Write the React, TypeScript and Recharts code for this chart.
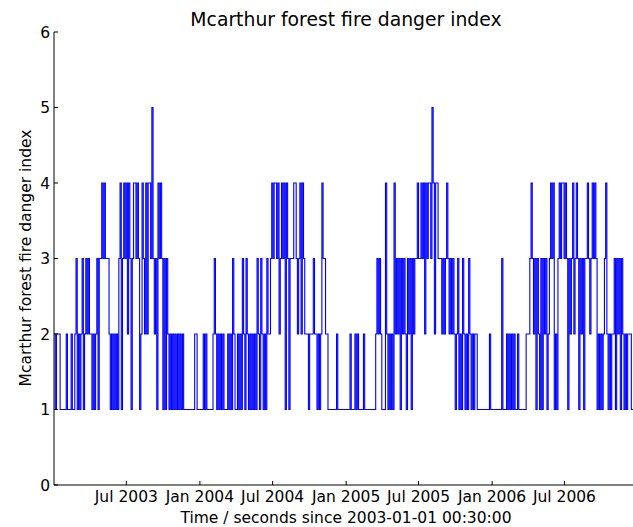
import { LineChart, Line, XAxis, YAxis } from "recharts";

const FONT = "'DejaVu Sans', 'Bitstream Vera Sans', sans-serif";

// index samples roughly every 3 days, starting 2003-01-01 00:30
const startDate = Date.UTC(2003, 0, 1, 0, 30);
const dayMs = 86400000;
const stepDays = 3.06;

// fire danger index, one digit per sample
const fdi2003 =
  "2122211111" + "2111211231" + "2123123232" + "2121231334" + "3433321212" +
  "1213413434" + "2431344343" + "1243242443" + "5323143431" + "3132121212" +
  "1212121111" + "1111122111" + "11";
const fdi2004 =
  "2121111123" + "2121212111" + "2121321121" + "2132132121" + "2121321321" +
  "2132234344" + "3423434143" + "1333443234" + "2432221222" + "3221212433" +
  "2211111112" + "1111111111" + "21";
const fdi2005 =
  "1121211112" + "1111111112" + "3232111421" + "2121423231" + "3232132313" +
  "2334334342" + "4344354244" + "3332323432" + "3232123121" + "3212132121" +
  "2211111111" + "1121111111" + "11";
const fdi2006 =
  "3111212121" + "2112111111" + "2223432313" + "2131323123" + "4341213434" +
  "4343132342" + "3431323133" + "4323434312" + "1212342121" + "2231323132" +
  "1212221121" + "12";

const xTickLabels = ["Jul 2003", "Jan 2004", "Jul 2004", "Jan 2005", "Jul 2005", "Jan 2006", "Jul 2006"];
const yTicks = [0, 1, 2, 3, 4, 5, 6];
const xEndDate = Date.UTC(2007, 0, 1, 0, 30);

const monthIndex: Record<string, number> = { Jan: 0, Jul: 6 };
const xTicks = xTickLabels.map((l) => {
  const [m, y] = l.split(" ");
  return (Date.UTC(Number(y), monthIndex[m], 1) - startDate) / dayMs;
});
const xMax = (xEndDate - startDate) / dayMs;

const values = (fdi2003 + fdi2004 + fdi2005 + fdi2006).split("").map(Number);
const data = values.map((v, i) => ({ day: i * stepDays, fdi: v }));

function labelFor(value: number) {
  let best = 0;
  xTicks.forEach((t, i) => {
    if (Math.abs(t - value) < Math.abs(xTicks[best] - value)) best = i;
  });
  return xTickLabels[best];
}

function BottomTick({ x, y, payload }: any) {
  return (
    <g>
      <line x1={x} y1={y} x2={x} y2={y - 4} stroke="#000" strokeWidth={1} />
      <text x={x} y={y + 17} textAnchor="middle" fontFamily={FONT} fontSize={15.5} fill="#000">
        {labelFor(payload.value)}
      </text>
    </g>
  );
}

function TopTick({ x, y }: any) {
  return <line x1={x} y1={y} x2={x} y2={y + 4} stroke="#000" strokeWidth={1} />;
}

function LeftTick({ x, y, payload }: any) {
  return (
    <g>
      <line x1={x} y1={y} x2={x + 4} y2={y} stroke="#000" strokeWidth={1} />
      <text x={x - 4} y={y + 5.6} textAnchor="end" fontFamily={FONT} fontSize={15.5} fill="#000">
        {payload.value}
      </text>
    </g>
  );
}

export default function App() {
  return (
    <div style={{ position: "fixed", left: 0, top: 0, width: 633, height: 527, overflow: "hidden", background: "#fff" }}>
      <LineChart width={648} height={527} data={data} margin={{ top: 32, right: 10, bottom: 0, left: 0 }}>
        <XAxis
          dataKey="day"
          type="number"
          domain={[0, xMax]}
          ticks={xTicks}
          interval={0}
          height={42}
          tickSize={0}
          tickMargin={0}
          tickLine={false}
          axisLine={{ stroke: "#000", strokeWidth: 1 }}
          tick={<BottomTick />}
        />
        <XAxis
          xAxisId="top"
          orientation="top"
          dataKey="day"
          type="number"
          domain={[0, xMax]}
          ticks={xTicks}
          interval={0}
          height={0}
          tickSize={0}
          tickMargin={0}
          tickLine={false}
          axisLine={{ stroke: "#000", strokeWidth: 1 }}
          tick={<TopTick />}
        />
        <YAxis
          type="number"
          domain={[0, 6]}
          ticks={yTicks}
          interval={0}
          width={54}
          tickSize={0}
          tickMargin={0}
          tickLine={false}
          axisLine={{ stroke: "#000", strokeWidth: 1 }}
          tick={<LeftTick />}
        />
        <Line
          type="stepAfter"
          dataKey="fdi"
          stroke="#0000ff"
          strokeWidth={1.1}
          dot={false}
          activeDot={false}
          isAnimationActive={false}
        />
      </LineChart>
      <svg width={633} height={527} style={{ position: "absolute", left: 0, top: 0, pointerEvents: "none" }}>
        <text x={346} y={25.5} textAnchor="middle" fontFamily={FONT} fontSize={18.8} fill="#000">
          Mcarthur forest fire danger index
        </text>
        <text x={346} y={523} textAnchor="middle" fontFamily={FONT} fontSize={15.5} fill="#000">
          Time / seconds since 2003-01-01 00:30:00
        </text>
        <text
          transform="translate(31,258) rotate(-90)"
          textAnchor="middle"
          fontFamily={FONT}
          fontSize={15.5}
          fill="#000"
        >
          Mcarthur forest fire danger index
        </text>
      </svg>
    </div>
  );
}
